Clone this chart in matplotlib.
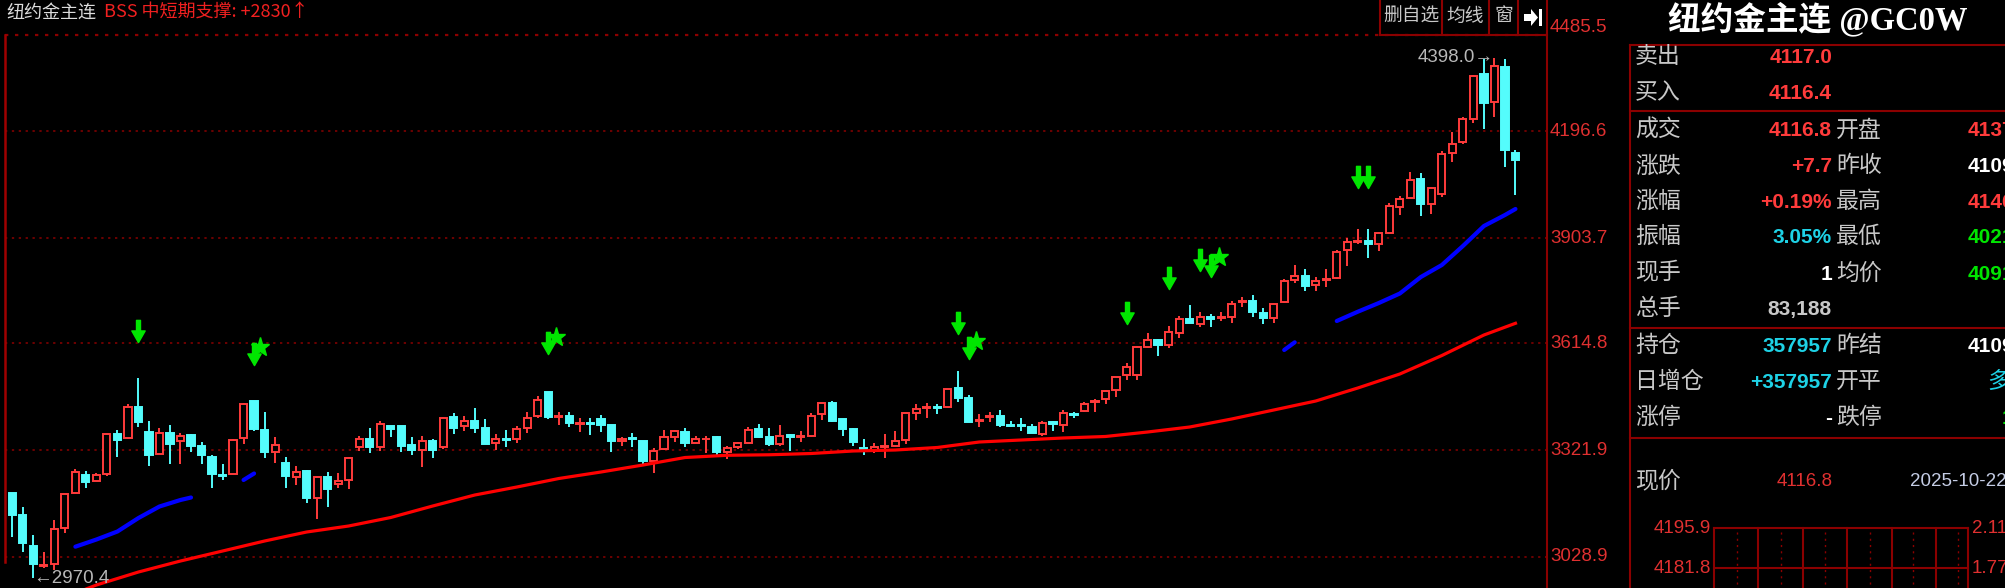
import numpy as np
import matplotlib.pyplot as plt
import matplotlib.transforms as mtransforms
from matplotlib.path import Path
from matplotlib.lines import Line2D
from matplotlib.patches import Polygon

plt.rcParams['font.family'] = ['Noto Sans CJK SC', 'DejaVu Sans']

W, H = 2005, 588

# daily candles (oldest first)
opens = [3204.8, 3142.6, 3059.4, 3003.5, 3008.1, 3106.9, 3203.0, 3253.3, 3235.9, 3256.1,
         3365.0, 3354.0, 3440.0, 3372.3, 3310.0, 3369.5, 3346.7, 3362.2, 3332.0, 3303.6,
         3254.2, 3255.2, 3355.8, 3455.5, 3376.9, 3317.4, 3287.2, 3246.9, 3264.3, 3189.3,
         3248.8, 3227.7, 3239.6, 3331.1, 3352.2, 3331.1, 3388.8, 3388.8, 3336.6, 3321.9,
         3347.6, 3329.3, 3413.4, 3387.9, 3401.6, 3381.4, 3342.1, 3352.2, 3351.2, 3383.3,
         3415.3, 3480.2, 3413.4, 3415.3, 3393.3, 3395.2, 3406.1, 3389.7, 3346.7, 3354.9,
         3347.6, 3292.7, 3324.7, 3358.6, 3372.3, 3342.1, 3351.2, 3356.7, 3317.4, 3331.1,
         3342.1, 3380.5, 3356.7, 3337.5, 3362.2, 3356.7, 3361.3, 3419.8, 3451.9, 3406.1,
         3378.7, 3327.4, 3320.1, 3330.2, 3333.9, 3349.4, 3424.4, 3437.2, 3439.1, 3439.1,
         3493.0, 3464.7, 3402.5, 3411.6, 3415.3, 3389.7, 3389.7, 3386.0, 3365.9, 3397.9,
         3390.6, 3420.8, 3429.9, 3452.8, 3461.0, 3486.7, 3527.8, 3527.8, 3605.6, 3624.8,
         3610.2, 3642.2, 3682.5, 3667.8, 3688.0, 3683.4, 3688.0, 3728.2, 3731.9, 3698.9,
         3685.2, 3727.3, 3788.6, 3800.5, 3775.8, 3788.6, 3795.0, 3870.0, 3892.0, 3896.6,
         3886.5, 3918.5, 3989.9, 4014.6, 4064.9, 3997.2, 4024.7, 4138.1, 4166.5, 4230.6,
         4354.1, 4278.1, 4374.2, 4137.6]
highs = [3204.8, 3166.4, 3088.6, 3042.9, 3129.8, 3200.2, 3268.9, 3265.2, 3257.9, 3365.0,
         3376.9, 3447.3, 3518.7, 3402.5, 3381.4, 3390.6, 3367.7, 3365.9, 3344.8, 3308.2,
         3283.5, 3351.2, 3451.9, 3455.5, 3427.2, 3356.7, 3303.6, 3278.0, 3267.0, 3248.8,
         3262.5, 3257.9, 3303.6, 3361.3, 3381.4, 3402.5, 3388.8, 3388.8, 3356.7, 3361.3,
         3353.1, 3413.4, 3422.6, 3415.3, 3436.3, 3406.1, 3365.0, 3376.9, 3388.8, 3425.4,
         3471.1, 3480.2, 3427.2, 3427.2, 3410.7, 3410.7, 3418.0, 3389.7, 3356.7, 3369.5,
         3347.6, 3326.5, 3376.9, 3376.9, 3381.4, 3361.3, 3360.4, 3361.3, 3332.9, 3344.8,
         3386.0, 3394.2, 3381.4, 3389.7, 3365.9, 3374.1, 3422.6, 3451.9, 3455.5, 3406.1,
         3381.4, 3353.1, 3340.2, 3365.9, 3374.1, 3422.6, 3447.3, 3451.9, 3447.3, 3489.4,
         3538.8, 3472.9, 3419.8, 3427.2, 3431.8, 3401.6, 3410.7, 3393.3, 3402.5, 3402.5,
         3431.8, 3427.2, 3454.6, 3461.0, 3486.7, 3523.3, 3561.7, 3608.3, 3644.0, 3627.6,
         3662.3, 3689.8, 3720.0, 3701.7, 3694.4, 3701.7, 3731.9, 3742.9, 3747.4, 3710.8,
         3722.7, 3790.4, 3829.8, 3817.9, 3795.9, 3817.9, 3871.0, 3903.0, 3928.6, 3928.6,
         3921.3, 3999.1, 4020.1, 4086.0, 4081.4, 4044.8, 4142.7, 4195.8, 4237.0, 4351.3,
         4394.3, 4398.0, 4396.0, 4146.5]
lows = [3082.2, 3042.9, 2970.4, 2997.2, 2992.6, 3093.2, 3203.0, 3216.7, 3235.9, 3250.6,
        3303.6, 3351.2, 3386.0, 3279.0, 3310.0, 3283.5, 3283.5, 3315.5, 3283.5, 3216.7,
        3239.6, 3255.2, 3337.5, 3374.1, 3299.1, 3287.2, 3216.7, 3225.9, 3177.4, 3131.6,
        3164.6, 3218.6, 3214.0, 3320.1, 3312.8, 3320.1, 3358.6, 3316.5, 3308.2, 3276.2,
        3300.9, 3323.8, 3365.9, 3374.1, 3369.5, 3338.4, 3321.9, 3329.3, 3342.1, 3367.7,
        3408.9, 3407.0, 3390.6, 3386.0, 3370.4, 3362.2, 3370.4, 3317.4, 3332.9, 3329.3,
        3282.6, 3259.7, 3321.9, 3344.8, 3329.3, 3340.2, 3312.8, 3308.2, 3296.3, 3325.6,
        3340.2, 3354.0, 3333.9, 3333.9, 3320.1, 3344.8, 3358.6, 3404.3, 3399.7, 3361.3,
        3332.9, 3307.3, 3312.8, 3300.9, 3333.9, 3337.5, 3404.3, 3410.7, 3419.8, 3436.3,
        3452.8, 3399.7, 3386.0, 3399.7, 3384.2, 3386.0, 3374.1, 3367.7, 3360.4, 3375.0,
        3370.4, 3410.7, 3427.2, 3427.2, 3448.2, 3468.4, 3514.1, 3514.1, 3601.0, 3580.0,
        3601.0, 3630.3, 3671.5, 3658.7, 3658.7, 3677.0, 3671.5, 3715.4, 3686.1, 3666.9,
        3671.5, 3724.6, 3779.4, 3758.4, 3758.4, 3770.3, 3790.4, 3827.0, 3887.4, 3848.1,
        3869.1, 3914.9, 3967.0, 4012.8, 3964.3, 3968.9, 4017.4, 4111.6, 4161.0, 4220.5,
        4202.2, 4237.0, 4099.7, 4021.2]
closes = [3143.5, 3065.7, 3008.1, 3006.3, 3105.1, 3200.2, 3261.6, 3235.0, 3252.4, 3365.0,
          3349.4, 3439.1, 3397.9, 3308.2, 3367.7, 3338.4, 3360.4, 3333.0, 3308.2, 3255.2,
          3251.5, 3349.4, 3447.3, 3378.7, 3317.4, 3335.7, 3250.6, 3261.6, 3189.3, 3248.8,
          3214.0, 3236.9, 3299.1, 3352.2, 3329.3, 3393.3, 3379.6, 3333.9, 3321.9, 3346.7,
          3321.9, 3410.7, 3383.3, 3400.6, 3383.3, 3338.4, 3352.2, 3349.4, 3379.6, 3410.7,
          3459.2, 3411.6, 3415.3, 3395.2, 3395.2, 3393.3, 3391.5, 3345.7, 3353.1, 3353.1,
          3291.8, 3319.2, 3356.7, 3373.2, 3342.1, 3352.2, 3353.1, 3317.4, 3328.4, 3340.2,
          3376.9, 3356.7, 3338.4, 3360.4, 3356.7, 3359.5, 3415.3, 3450.0, 3402.5, 3378.7,
          3344.8, 3325.6, 3331.1, 3332.0, 3347.6, 3422.6, 3434.5, 3439.1, 3437.2, 3488.5,
          3463.8, 3399.7, 3405.2, 3414.4, 3390.6, 3387.9, 3387.9, 3367.7, 3397.0, 3392.4,
          3422.6, 3418.0, 3447.3, 3455.5, 3483.9, 3521.4, 3548.9, 3603.8, 3623.9, 3609.3,
          3645.0, 3681.6, 3671.5, 3686.1, 3682.5, 3686.1, 3722.7, 3730.0, 3699.8, 3685.2,
          3722.7, 3786.8, 3800.5, 3773.1, 3784.9, 3792.3, 3866.4, 3892.0, 3894.8, 3886.5,
          3916.7, 3991.7, 4010.0, 4063.1, 3997.2, 4040.2, 4134.5, 4161.9, 4229.6, 4348.6,
          4273.6, 4377.0, 4145.5, 4116.8]

# red long moving average, read at some candles
ma_red_idx = [6, 8, 12, 16, 20, 24, 28, 32, 36, 40, 44, 48, 52, 56, 60, 64, 68, 72,
              76, 80, 84, 88, 92, 96, 100, 104, 108, 112, 116, 120, 124, 128, 132, 136, 140, 143]
ma_red_val = [2929.0, 2951.3, 2987.0, 3017.2, 3044.6, 3072.1, 3096.8, 3113.3, 3136.6, 3168.2,
              3198.4, 3220.3, 3243.7, 3261.5, 3280.7, 3301.3, 3307.4, 3308.8, 3312.3, 3319.2,
              3321.9, 3328.8, 3343.9, 3349.4, 3354.9, 3359.0, 3371.3, 3385.0, 3407.0, 3431.7,
              3456.4, 3492.1, 3530.5, 3581.3, 3637.6, 3669.7]

# blue line, only drawn in pieces (nan = gap)
ma_blue_idx = [6, 8, 10, 12, 14, 16, 17, 19, 22, 23, 60, 121, 122, 124,
               126, 128, 130, 132, 134, 136, 138, 140, 142, 143]
ma_blue_val = [3056.5, 3076.2, 3098.2, 3135.2, 3166.8, 3184.7, 3191.5, np.nan, 3239.6, 3257.4,
               np.nan, 3596.4, 3617.5, np.nan, 3676.0, 3701.5, 3725.4, 3751.5, 3796.8, 3829.8,
               3881.9, 3936.8, 3967.0, 3983.5]

# signals
arrow_idx = [12, 23, 51, 90, 91, 106, 110, 113, 114, 128, 129]
arrow_val = [3648.6, 3585.4, 3615.6, 3671.9, 3601.9, 3697.2, 3795.4, 3842.1, 3827.0, 4071.3, 4071.3]
star_idx = [23.6, 51.75, 91.7, 114.8]
star_val = [3603.3, 3632.9, 3621.1, 3850.9]

ytick_vals = [4196.6, 3903.7, 3614.8, 3321.9, 3028.9]
ytop_label = '4485.5'

RED = '#ff3b3b'
CYAN = '#54fcfc'
DARK = '#8b0000'
GRAY = '#c8c8c8'

opens = np.array(opens)
closes = np.array(closes)
highs = np.array(highs)
lows = np.array(lows)
x = np.arange(len(opens))
up = closes >= opens

fig = plt.figure(figsize=(W / 100, H / 100), dpi=100, facecolor='black')


def fx(px):
    return px / W


def fy(py):
    return 1 - py / H


def ftxt(px, py, s, **kw):
    kw.setdefault('va', 'center')
    fig.text(fx(px), fy(py), s, **kw)


def fline(x1, y1, x2, y2, **kw):
    kw.setdefault('color', DARK)
    kw.setdefault('lw', 1.5)
    fig.add_artist(Line2D([fx(x1), fx(x2)], [fy(y1), fy(y2)], **kw))


# ---- main candle pane
ax = fig.add_axes([fx(5), 0, (1547 - 5) / W, (H - 35) / H])
ax.axis('off')
ax.set_xlim(-0.695, 146.0)
ax.set_ylim(2943.1, 4461.1)

dots = (0, (1.5, 3))
for v in ytick_vals:
    ax.axhline(v, color=DARK, lw=1.1, ls=dots, zorder=1)
ax.axhline(4461.1, color=DARK, lw=1.6, ls=dots, zorder=1, clip_on=False)

wick_col = np.where(up, RED, CYAN)
ax.vlines(x, lows, highs, colors=wick_col, lw=1.4, zorder=2)
ax.bar(x, np.abs(closes - opens), bottom=np.minimum(opens, closes), width=0.68,
       facecolor=np.where(up, 'black', CYAN), edgecolor=wick_col, lw=1.4, zorder=3)

ax.plot(ma_red_idx, ma_red_val, color='#ff0000', lw=2.3, zorder=4)
ax.plot(ma_blue_idx, ma_blue_val, color='#0000ff', lw=3.0, zorder=4, solid_capstyle='round')

arrow_path = Path([(-0.18, 1), (0.18, 1), (0.18, 0.05), (0.6, 0.05), (0, -1),
                   (-0.6, 0.05), (-0.18, 0.05), (-0.18, 1)], closed=True)
ax.plot(arrow_idx, arrow_val, ls='none', marker=arrow_path, ms=16,
        color='#00e600', mec='#00e600', zorder=5, clip_on=False)
ax.plot(star_idx, star_val, ls='none', marker='*', ms=14, color='#00e600', zorder=5)

numfont = ['Liberation Sans', 'DejaVu Sans']
ax.text(140.9, 4398.0, '4398.0\u2192', color='#b8b8b8', ha='right', va='center',
        fontsize=13.5, family=numfont, zorder=6)
ax.text(2.0, 2970.4, '\u21902970.4', color='#b8b8b8', ha='left', va='center',
        fontsize=13.5, family=numfont, zorder=6, clip_on=False)

# price labels on the right
btr = mtransforms.blended_transform_factory(fig.transFigure, ax.transData)
for v in ytick_vals:
    ax.text(fx(1550), v, f'{v:.1f}', transform=btr, color='#e03030', fontsize=13.5,
            family=numfont, va='center', ha='left')
ftxt(1550, 28, ytop_label, color='#e03030', fontsize=13.5, family=numfont)

# frame lines
fline(5, 35, 5, 562, lw=1.8, color='#a00000')
fline(1547, 0, 1547, 588, lw=1.5)

# header
ftxt(6, 13, '纽约金主连', color='#dcdcdc', fontsize=13)
ftxt(104, 13, 'BSS 中短期支撑: +2830\u2191', color='#f02020', fontsize=13)

# buttons
for bx in [1380, 1442, 1489, 1518]:
    fline(bx, 0, bx, 35)
fline(1380, 35, 1547, 35)
ftxt(1411, 16, '删自选', color=GRAY, fontsize=13.5, ha='center')
ftxt(1465.5, 16, '均线', color=GRAY, fontsize=13.5, ha='center')
ftxt(1503.5, 16, '窗', color=GRAY, fontsize=13.5, ha='center')
icon = [(1524, 14), (1531, 14), (1531, 9), (1538, 17.5), (1531, 26), (1531, 21), (1524, 21)]
fig.add_artist(Polygon([(fx(a), fy(b)) for a, b in icon], closed=True,
                       facecolor='white', edgecolor='none', transform=fig.transFigure))
fig.add_artist(Polygon([(fx(a), fy(b)) for a, b in [(1539, 9), (1542, 9), (1542, 26), (1539, 26)]],
                       closed=True, facecolor='white', edgecolor='none', transform=fig.transFigure))

# ---- quote panel
ftxt(1668, 19, '纽约金主连 @GC0W', color='white', fontsize=23.5, weight='bold',
     family=['Liberation Serif', 'Noto Sans CJK SC'])
fline(1630, 45, 2005, 45)
fline(1630, 45, 1630, 588)
for ly in [110.7, 328.3, 437.7]:
    fline(1630, ly, 2005, ly)

labels1 = ['卖出', '买入', '成交', '涨跌', '涨幅', '振幅', '现手', '总手', '持仓', '日增仓', '涨停']
values1 = ['4117.0', '4116.4', '4116.8', '+7.7', '+0.19%', '3.05%', '1', '83,188', '357957', '+357957', '-']
colors1 = [RED, RED, RED, RED, RED, '#1ed2e6', 'white', GRAY, '#1ed2e6', '#1ed2e6', 'white']
labels2 = ['', '', '开盘', '昨收', '最高', '最低', '均价', '', '昨结', '开平', '跌停']
values2 = ['', '', '4137.6', '4109.1', '4146.5', '4021.2', '4091.5', '', '4109.1', '', '1']
colors2 = ['', '', RED, 'white', RED, '#00e600', '#00e600', '', 'white', '', '#00e600']
rows_y = [56.7, 92.7, 130, 166, 201.7, 236.7, 273.3, 308.3, 346, 381.7, 417.3]

for i, ry in enumerate(rows_y):
    ftxt(1635, ry, labels1[i], color=GRAY, fontsize=16.5)
    ftxt(1832, ry + 1, values1[i], color=colors1[i], fontsize=15, weight='bold',
         family=numfont, ha='right')
    if labels2[i]:
        ftxt(1836, ry, labels2[i], color=GRAY, fontsize=16.5)
    if values2[i]:
        vx = 2002 if labels2[i] == '跌停' else 1968
        ftxt(vx, ry + 1, values2[i], color=colors2[i], fontsize=15, weight='bold', family=numfont)
ftxt(1987, 381.7, '多开', color='#1ed2e6', fontsize=16.5)

ftxt(1635, 480.7, '现价', color=GRAY, fontsize=16.5)
ftxt(1777, 481, '4116.8', color='#e03030', fontsize=13.5, family=numfont)
ftxt(1910, 481, '2025-10-22', color='#c4cce4', fontsize=13.5, family=numfont)

# mini chart at the bottom
mini_left = ['4195.9', '4181.8']
mini_right = ['2.11%', '1.77%']
mini_y = [528.3, 568.3]
fline(1714, 528.3, 1968, 528.3)
fline(1714, 568.3, 1968, 568.3)
for vx in [1714, 1758.3, 1803.3, 1847.3, 1891.7, 1935.7, 1968]:
    fline(vx, 528.3, vx, 588)
for vx in [1737.3, 1781, 1825, 1870, 1913.3, 1958.3]:
    fline(vx, 532, vx, 588, lw=1, ls=(0, (1.5, 3)))
for i, my in enumerate(mini_y):
    ftxt(1711, my, mini_left[i], color='#e03030', fontsize=13.5, family=numfont, ha='right')
    ftxt(1972, my, mini_right[i], color='#e03030', fontsize=13.5, family=numfont)

fig.savefig('out.png', dpi=100, facecolor='black')
